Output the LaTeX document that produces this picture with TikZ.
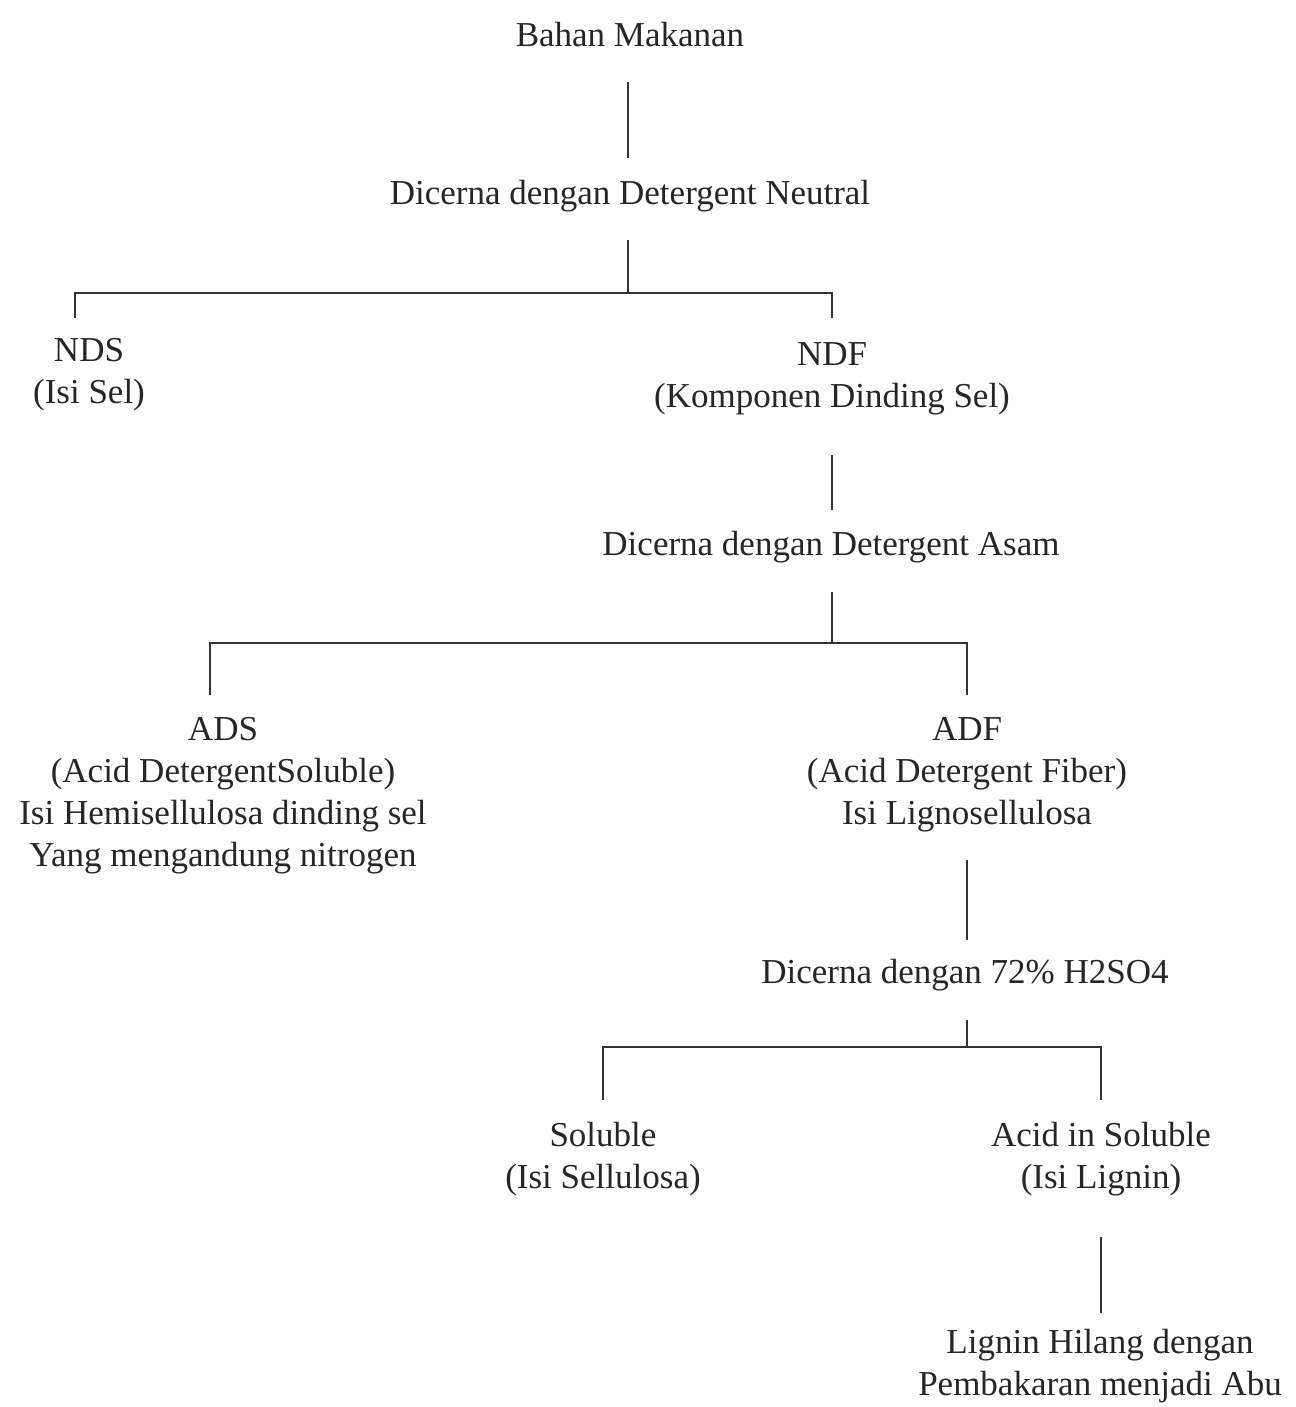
\documentclass[tikz,border=0pt]{standalone}
\usepackage{fontspec}
\setmainfont{Liberation Serif}
\begin{document}
\begin{tikzpicture}[x=0.5pt,y=-0.5pt,
  lbl/.style={font=\fontsize{17.5}{21}\selectfont, align=center, inner sep=0pt, text=black!85},
  ln/.style={line width=1pt, draw=black!80}]
\path[use as bounding box] (0,0) rectangle (1295,1407);
% nodes
\node[lbl] (bm) at (630,35) {Bahan Makanan};
\node[lbl] (d1) at (630,196) {Dicerna dengan Detergent Neutral};
\node[lbl] (nds) at (89,375) {NDS\\(Isi Sel)};
\node[lbl] (ndf) at (832,379) {NDF\\(Komponen Dinding Sel)};
\node[lbl] (d2) at (831,547) {Dicerna dengan Detergent Asam};
\node[lbl] (ads) at (223,796) {ADS\\(Acid DetergentSoluble)\\Isi Hemisellulosa dinding sel\\Yang mengandung nitrogen};
\node[lbl] (adf) at (967,775) {ADF\\(Acid Detergent Fiber)\\Isi Lignosellulosa};
\node[lbl] (d3) at (965,975) {Dicerna dengan 72\% H2SO4};
\node[lbl] (sol) at (603,1159) {Soluble\\(Isi Sellulosa)};
\node[lbl] (ais) at (1101,1159) {Acid in Soluble\\(Isi Lignin)};
\node[lbl] (lh) at (1100,1366) {Lignin Hilang dengan\\Pembakaran menjadi Abu};
% junction coordinates
\coordinate (j1) at (628,293);
\coordinate (j2) at (832,643);
\coordinate (j3) at (967,1047);
% connectors
\draw[ln] (j1 |- 0,82) -- (j1 |- 0,158);
\draw[ln] (j1 |- 0,240) -- (j1);
\draw[ln] (75,318) -- (75,293) -- (ndf.north |- j1) -- (ndf.north |- 0,318);
\draw[ln] (ndf.south |- 0,455) -- (ndf.south |- 0,510);
\draw[ln] (j2 |- 0,592) -- (j2);
\draw[ln] (210,695) -- (210,643) -- (adf.north |- j2) -- (adf.north |- 0,695);
\draw[ln] (adf.south |- 0,860) -- (adf.south |- 0,940);
\draw[ln] (j3 |- 0,1020) -- (j3);
\draw[ln] (sol.north |- 0,1100) -- (sol.north |- j3) -- (ais.north |- j3) -- (ais.north |- 0,1100);
\draw[ln] (ais.south |- 0,1237) -- (ais.south |- 0,1313);
\end{tikzpicture}
\end{document}
